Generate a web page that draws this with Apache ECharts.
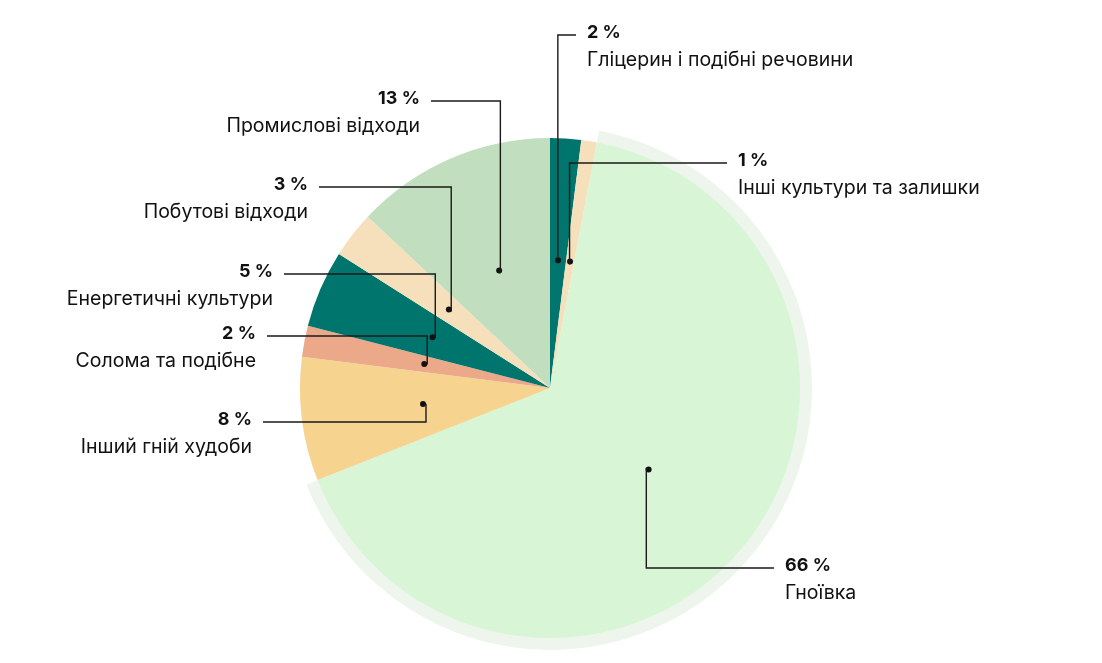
<!DOCTYPE html>
<html>
<head>
<meta charset="utf-8">
<script src="https://cdn.jsdelivr.net/npm/echarts@6/dist/echarts.min.js"></script>
<style>
html,body{margin:0;padding:0;background:#fff;}
#chart{width:1102px;height:663px;}
</style>
</head>
<body>
<div id="chart"></div>
<script>
// ---- data ----
const categories = [
  'Гліцерин і подібні речовини',
  'Інші культури та залишки',
  'Гноївка',
  'Інший гній худоби',
  'Солома та подібне',
  'Енергетичні культури',
  'Побутові відходи',
  'Промислові відходи'
];
const shares = [2, 1, 66, 8, 2, 5, 3, 13];

// ---- styles / layout ----
const sliceColors = ['#00756d', '#f6e0bb', '#d8f5d6', '#f6d38f', '#eca98a', '#00756d', '#f6e0bb', '#c1dfbf'];
const haloColor = '#eef5ed';
const haloIndex = 2;
const CX = 550, CY = 388, R = 250, R_HALO = 262;
const labelSide = ['right', 'right', 'right', 'left', 'left', 'left', 'left', 'left'];
const labelX = [587, 738, 785, 252, 256, 273, 308, 420];
const labelY = [33, 161, 566, 420, 334, 272, 185, 99];
const LINE_GAP = 11, LINE_DY = 2, LINE_H = 27;
const FONT = 'Inter, "Noto Sans", sans-serif';

const total = shares.reduce((a, b) => a + b, 0);
function midAngle(i) {
  let before = 0;
  for (let k = 0; k < i; k++) before += shares[k];
  return ((before + shares[i] / 2) / total) * Math.PI * 2; // clockwise from top
}
function dotPoint(i) {
  const a = midAngle(i);
  return [CX + Math.sin(a) * R / 2, CY - Math.cos(a) * R / 2];
}

const pieData = categories.map((name, i) => ({ name, value: shares[i], itemStyle: { color: sliceColors[i] } }));
const haloData = categories.map((name, i) => ({ name, value: shares[i], itemStyle: { color: i === haloIndex ? haloColor : 'rgba(0,0,0,0)' } }));
const overlayData = categories.map((name, i) => ({ name, value: shares[i], itemStyle: { color: 'rgba(0,0,0,0)' } }));

const chart = echarts.init(document.getElementById('chart'));
chart.setOption({
  animation: false,
  backgroundColor: '#fff',
  series: [
    {
      type: 'pie', z: 1, silent: true,
      center: [CX, CY], radius: [0, R_HALO], startAngle: 90, clockwise: true,
      label: { show: false }, labelLine: { show: false },
      data: haloData
    },
    {
      type: 'pie', z: 2, silent: true,
      center: [CX, CY], radius: [0, R], startAngle: 90, clockwise: true,
      avoidLabelOverlap: false,
      label: {
        show: true, position: 'inside',
        formatter: '{d| }',
        rich: { d: { width: 6, height: 6, borderRadius: 3, backgroundColor: '#111', fontSize: 1, lineHeight: 6 } }
      },
      labelLine: { show: false },
      data: pieData
    },
    {
      type: 'pie', z: 3, silent: true,
      center: [CX, CY], radius: [0, R], startAngle: 90, clockwise: true,
      avoidLabelOverlap: false,
      label: {
        show: true, position: 'outside',
        formatter: '{p|{c} %}\n{n|{b}}',
        rich: {
          p: { fontFamily: FONT, fontSize: 18, fontWeight: 700, color: '#111', lineHeight: LINE_H },
          n: { fontFamily: FONT, fontSize: 19.5, fontWeight: 400, color: '#111', lineHeight: LINE_H }
        }
      },
      labelLine: { show: true, lineStyle: { color: '#1a1a1a', width: 1.4 } },
      labelLayout: function (params) {
        const i = params.dataIndex;
        const d = dotPoint(i);
        const ly = labelY[i] + LINE_DY;
        const endX = labelSide[i] === 'right' ? labelX[i] - LINE_GAP : labelX[i] + LINE_GAP;
        return {
          x: labelX[i],
          y: labelY[i] - LINE_H / 2,
          align: labelSide[i] === 'right' ? 'left' : 'right',
          verticalAlign: 'top',
          labelLinePoints: [d, [d[0], ly], [endX, ly]]
        };
      },
      data: overlayData
    }
  ]
});
</script>
</body>
</html>
